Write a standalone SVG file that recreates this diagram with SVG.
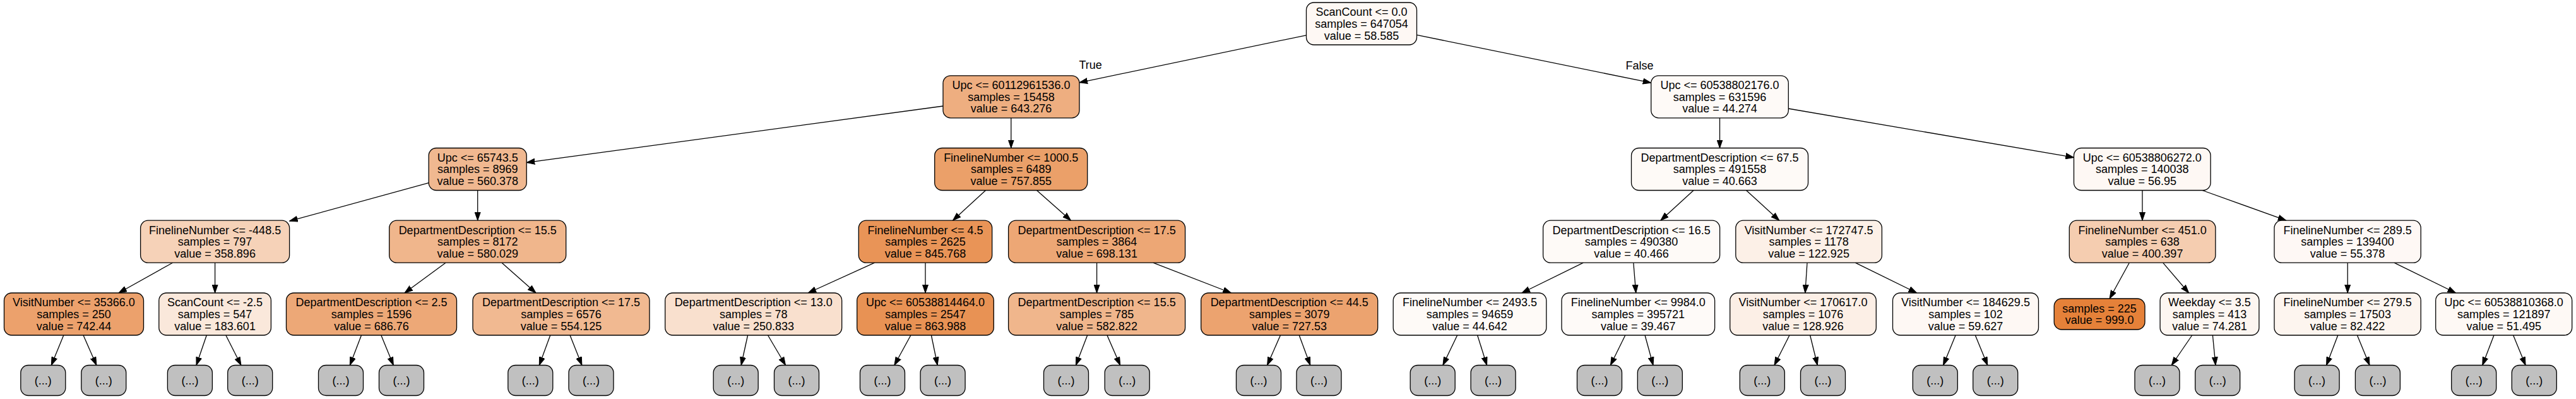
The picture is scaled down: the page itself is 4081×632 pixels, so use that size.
<svg xmlns="http://www.w3.org/2000/svg" width="4081" height="632" viewBox="0 0 4081 632">
<defs>
<marker id="ah" markerWidth="14" markerHeight="10" refX="13" refY="5" orient="auto" markerUnits="userSpaceOnUse"><path d="M0,0.5 L13,5 L0,9.5 z" fill="#000" stroke="#000" stroke-width="1"/></marker>
</defs>
<style>
.n rect{stroke:#000;stroke-width:1.3}
.d rect{fill:#c0c0c0;stroke:#000;stroke-width:1.3}
text{font-family:"Liberation Sans",Helvetica,Arial,sans-serif;font-size:18px;fill:#000;text-anchor:middle}
#edges line{stroke:#000;stroke-width:1.3;marker-end:url(#ah)}
</style>
<rect width="4081" height="632" fill="#fff"/>
<g id="edges">
<line x1="2069.5" y1="55.8" x2="1710" y2="130.8"/>
<line x1="2244.5" y1="55.4" x2="2615.7" y2="131.2"/>
<line x1="1494" y1="168" x2="834.2" y2="257.5"/>
<line x1="1601.8" y1="186.8" x2="1601.8" y2="234.5"/>
<line x1="2724.5" y1="186.8" x2="2724.5" y2="234.5"/>
<line x1="2833.3" y1="172" x2="3285.5" y2="249.4"/>
<line x1="679.2" y1="289.6" x2="458.6" y2="350.2"/>
<line x1="756.7" y1="301.5" x2="756.7" y2="349.2"/>
<line x1="1561.5" y1="301.5" x2="1509.5" y2="349.2"/>
<line x1="1642.5" y1="301.5" x2="1696.5" y2="349.2"/>
<line x1="2683" y1="301.5" x2="2630.8" y2="349.2"/>
<line x1="2766.5" y1="301.5" x2="2818.8" y2="349.2"/>
<line x1="3394" y1="301.5" x2="3394" y2="349.2"/>
<line x1="3489" y1="301.5" x2="3621.8" y2="349.2"/>
<line x1="273.5" y1="416.2" x2="188" y2="464"/>
<line x1="340.6" y1="416.2" x2="340.6" y2="464"/>
<line x1="706" y1="416.2" x2="641" y2="464"/>
<line x1="795" y1="416.2" x2="849" y2="464"/>
<line x1="1385.6" y1="416.2" x2="1280.2" y2="464"/>
<line x1="1466" y1="416.2" x2="1466" y2="464"/>
<line x1="1737.6" y1="416.2" x2="1737.6" y2="464"/>
<line x1="1826.8" y1="416.2" x2="1950.4" y2="464"/>
<line x1="2508.4" y1="416.2" x2="2410.9" y2="464"/>
<line x1="2587.8" y1="416.2" x2="2591.7" y2="464"/>
<line x1="2863" y1="416.2" x2="2859.8" y2="464"/>
<line x1="2939.2" y1="416.2" x2="3036.7" y2="464"/>
<line x1="3373.3" y1="416.2" x2="3342.1" y2="473"/>
<line x1="3426.6" y1="416.2" x2="3467.6" y2="464"/>
<line x1="3719.2" y1="416.2" x2="3719.2" y2="464"/>
<line x1="3792.9" y1="416.2" x2="3890.5" y2="464"/>
<line x1="100.8" y1="531" x2="81.3" y2="578.5"/>
<line x1="132" y1="531" x2="152.9" y2="578.5"/>
<line x1="327.3" y1="531" x2="311" y2="578.5"/>
<line x1="357.8" y1="531" x2="381.9" y2="578.5"/>
<line x1="572.5" y1="531" x2="554.3" y2="578.5"/>
<line x1="603.8" y1="531" x2="623.3" y2="578.5"/>
<line x1="871.8" y1="531" x2="854.3" y2="578.5"/>
<line x1="903" y1="531" x2="921.9" y2="578.5"/>
<line x1="1184.6" y1="531" x2="1174.2" y2="578.5"/>
<line x1="1216.5" y1="531" x2="1244.5" y2="578.5"/>
<line x1="1442.9" y1="531" x2="1416.9" y2="578.5"/>
<line x1="1475.4" y1="531" x2="1485.2" y2="578.5"/>
<line x1="1722.7" y1="531" x2="1704.4" y2="578.5"/>
<line x1="1753.9" y1="531" x2="1774.7" y2="578.5"/>
<line x1="2028.5" y1="531" x2="2007.6" y2="578.5"/>
<line x1="2058.2" y1="531" x2="2075.8" y2="578.5"/>
<line x1="2308.7" y1="531" x2="2285.9" y2="578.5"/>
<line x1="2340.6" y1="531" x2="2355.6" y2="578.5"/>
<line x1="2574.8" y1="531" x2="2551.4" y2="578.5"/>
<line x1="2606" y1="531" x2="2619" y2="578.5"/>
<line x1="2835" y1="531" x2="2811" y2="578.5"/>
<line x1="2867.6" y1="531" x2="2879.3" y2="578.5"/>
<line x1="3098.1" y1="531" x2="3078.6" y2="578.5"/>
<line x1="3129.3" y1="531" x2="3148.8" y2="578.5"/>
<line x1="3472.8" y1="531" x2="3440.3" y2="578.5"/>
<line x1="3505.4" y1="531" x2="3510" y2="578.5"/>
<line x1="3703.8" y1="531" x2="3685.6" y2="578.5"/>
<line x1="3734.4" y1="531" x2="3754" y2="578.5"/>
<line x1="3951" y1="531" x2="3932.8" y2="578.5"/>
<line x1="3981.6" y1="531" x2="4001.1" y2="578.5"/>
<text x="1727.7" y="109.3">True</text>
<text x="2597.5" y="110">False</text>
</g>
<g id="n0" class="n"><rect x="2069.5" y="4" width="175" height="67" rx="12" fill="#fef8f4"/><text x="2157" y="25.3">ScanCount &lt;= 0.0</text><text x="2157" y="43.9">samples = 647054</text><text x="2157" y="62.5">value = 58.585</text></g>
<g id="n1" class="n"><rect x="1494" y="119.8" width="216" height="67" rx="12" fill="#eeae80"/><text x="1602" y="141.1">Upc &lt;= 60112961536.0</text><text x="1602" y="159.7">samples = 15458</text><text x="1602" y="178.3">value = 643.276</text></g>
<g id="n2" class="n"><rect x="2615.7" y="119.8" width="217.6" height="67" rx="12" fill="#fefaf7"/><text x="2724.5" y="141.1">Upc &lt;= 60538802176.0</text><text x="2724.5" y="159.7">samples = 631596</text><text x="2724.5" y="178.3">value = 44.274</text></g>
<g id="n3" class="n"><rect x="679.2" y="234.5" width="155" height="67" rx="12" fill="#f0b890"/><text x="756.7" y="255.8">Upc &lt;= 65743.5</text><text x="756.7" y="274.4">samples = 8969</text><text x="756.7" y="293">value = 560.378</text></g>
<g id="n4" class="n"><rect x="1480.7" y="234.5" width="242" height="67" rx="12" fill="#eba069"/><text x="1601.7" y="255.8">FinelineNumber &lt;= 1000.5</text><text x="1601.7" y="274.4">samples = 6489</text><text x="1601.7" y="293">value = 757.855</text></g>
<g id="n5" class="n"><rect x="2584.5" y="234.5" width="280" height="67" rx="12" fill="#fefaf7"/><text x="2724.5" y="255.8">DepartmentDescription &lt;= 67.5</text><text x="2724.5" y="274.4">samples = 491558</text><text x="2724.5" y="293">value = 40.663</text></g>
<g id="n6" class="n"><rect x="3285.5" y="234.5" width="216.6" height="67" rx="12" fill="#fef8f4"/><text x="3393.8" y="255.8">Upc &lt;= 60538806272.0</text><text x="3393.8" y="274.4">samples = 140038</text><text x="3393.8" y="293">value = 56.95</text></g>
<g id="n7" class="n"><rect x="222.6" y="349.2" width="236" height="67" rx="12" fill="#f6d2b8"/><text x="340.6" y="370.5">FinelineNumber &lt;= -448.5</text><text x="340.6" y="389.1">samples = 797</text><text x="340.6" y="407.7">value = 358.896</text></g>
<g id="n8" class="n"><rect x="616.7" y="349.2" width="280" height="67" rx="12" fill="#f0b68c"/><text x="756.7" y="370.5">DepartmentDescription &lt;= 15.5</text><text x="756.7" y="389.1">samples = 8172</text><text x="756.7" y="407.7">value = 580.029</text></g>
<g id="n9" class="n"><rect x="1360.3" y="349.2" width="211.4" height="67" rx="12" fill="#e99457"/><text x="1466" y="370.5">FinelineNumber &lt;= 4.5</text><text x="1466" y="389.1">samples = 2625</text><text x="1466" y="407.7">value = 845.768</text></g>
<g id="n10" class="n"><rect x="1597.6" y="349.2" width="280" height="67" rx="12" fill="#eda775"/><text x="1737.6" y="370.5">DepartmentDescription &lt;= 17.5</text><text x="1737.6" y="389.1">samples = 3864</text><text x="1737.6" y="407.7">value = 698.131</text></g>
<g id="n11" class="n"><rect x="2444.6" y="349.2" width="280" height="67" rx="12" fill="#fefaf7"/><text x="2584.6" y="370.5">DepartmentDescription &lt;= 16.5</text><text x="2584.6" y="389.1">samples = 490380</text><text x="2584.6" y="407.7">value = 40.466</text></g>
<g id="n12" class="n"><rect x="2749.8" y="349.2" width="231.6" height="67" rx="12" fill="#fcf0e7"/><text x="2865.6" y="370.5">VisitNumber &lt;= 172747.5</text><text x="2865.6" y="389.1">samples = 1178</text><text x="2865.6" y="407.7">value = 122.925</text></g>
<g id="n13" class="n"><rect x="3278.3" y="349.2" width="231.6" height="67" rx="12" fill="#f5cdb0"/><text x="3394.1" y="370.5">FinelineNumber &lt;= 451.0</text><text x="3394.1" y="389.1">samples = 638</text><text x="3394.1" y="407.7">value = 400.397</text></g>
<g id="n14" class="n"><rect x="3603" y="349.2" width="232.2" height="67" rx="12" fill="#fef8f5"/><text x="3719.1" y="370.5">FinelineNumber &lt;= 289.5</text><text x="3719.1" y="389.1">samples = 139400</text><text x="3719.1" y="407.7">value = 55.378</text></g>
<g id="n15" class="n"><rect x="6.5" y="464" width="221" height="67" rx="12" fill="#eca16c"/><text x="117" y="485.3">VisitNumber &lt;= 35366.0</text><text x="117" y="503.9">samples = 250</text><text x="117" y="522.5">value = 742.44</text></g>
<g id="n16" class="n"><rect x="251.8" y="464" width="177.6" height="67" rx="12" fill="#fae8db"/><text x="340.6" y="485.3">ScanCount &lt;= -2.5</text><text x="340.6" y="503.9">samples = 547</text><text x="340.6" y="522.5">value = 183.601</text></g>
<g id="n17" class="n"><rect x="453.5" y="464" width="270" height="67" rx="12" fill="#eda877"/><text x="588.5" y="485.3">DepartmentDescription &lt;= 2.5</text><text x="588.5" y="503.9">samples = 1596</text><text x="588.5" y="522.5">value = 686.76</text></g>
<g id="n18" class="n"><rect x="749" y="464" width="280" height="67" rx="12" fill="#f1b991"/><text x="889" y="485.3">DepartmentDescription &lt;= 17.5</text><text x="889" y="503.9">samples = 6576</text><text x="889" y="522.5">value = 554.125</text></g>
<g id="n19" class="n"><rect x="1053.7" y="464" width="280" height="67" rx="12" fill="#f9e0ce"/><text x="1193.7" y="485.3">DepartmentDescription &lt;= 13.0</text><text x="1193.7" y="503.9">samples = 78</text><text x="1193.7" y="522.5">value = 250.833</text></g>
<g id="n20" class="n"><rect x="1357.7" y="464" width="216.6" height="67" rx="12" fill="#e89254"/><text x="1466" y="485.3">Upc &lt;= 60538814464.0</text><text x="1466" y="503.9">samples = 2547</text><text x="1466" y="522.5">value = 863.988</text></g>
<g id="n21" class="n"><rect x="1597.6" y="464" width="280" height="67" rx="12" fill="#f0b68c"/><text x="1737.6" y="485.3">DepartmentDescription &lt;= 15.5</text><text x="1737.6" y="503.9">samples = 785</text><text x="1737.6" y="522.5">value = 582.822</text></g>
<g id="n22" class="n"><rect x="1902.7" y="464" width="280" height="67" rx="12" fill="#eca36f"/><text x="2042.7" y="485.3">DepartmentDescription &lt;= 44.5</text><text x="2042.7" y="503.9">samples = 3079</text><text x="2042.7" y="522.5">value = 727.53</text></g>
<g id="n23" class="n"><rect x="2207.2" y="464" width="242.6" height="67" rx="12" fill="#fefaf7"/><text x="2328.5" y="485.3">FinelineNumber &lt;= 2493.5</text><text x="2328.5" y="503.9">samples = 94659</text><text x="2328.5" y="522.5">value = 44.642</text></g>
<g id="n24" class="n"><rect x="2474" y="464" width="242.6" height="67" rx="12" fill="#fefaf8"/><text x="2595.3" y="485.3">FinelineNumber &lt;= 9984.0</text><text x="2595.3" y="503.9">samples = 395721</text><text x="2595.3" y="522.5">value = 39.467</text></g>
<g id="n25" class="n"><rect x="2740.7" y="464" width="231.6" height="67" rx="12" fill="#fcefe6"/><text x="2856.5" y="485.3">VisitNumber &lt;= 170617.0</text><text x="2856.5" y="503.9">samples = 1076</text><text x="2856.5" y="522.5">value = 128.926</text></g>
<g id="n26" class="n"><rect x="2998.5" y="464" width="231" height="67" rx="12" fill="#fef8f4"/><text x="3114" y="485.3">VisitNumber &lt;= 184629.5</text><text x="3114" y="503.9">samples = 102</text><text x="3114" y="522.5">value = 59.627</text></g>
<g id="n27" class="n"><rect x="3254.2" y="473" width="143.8" height="49" rx="12" fill="#e58139"/><text x="3326.1" y="494.8">samples = 225</text><text x="3326.1" y="513.4">value = 999.0</text></g>
<g id="n28" class="n"><rect x="3422.1" y="464" width="156.8" height="67" rx="12" fill="#fdf6f1"/><text x="3500.5" y="485.3">Weekday &lt;= 3.5</text><text x="3500.5" y="503.9">samples = 413</text><text x="3500.5" y="522.5">value = 74.281</text></g>
<g id="n29" class="n"><rect x="3603" y="464" width="232.2" height="67" rx="12" fill="#fdf5ef"/><text x="3719.1" y="485.3">FinelineNumber &lt;= 279.5</text><text x="3719.1" y="503.9">samples = 17503</text><text x="3719.1" y="522.5">value = 82.422</text></g>
<g id="n30" class="n"><rect x="3858.7" y="464" width="216" height="67" rx="12" fill="#fef9f5"/><text x="3966.7" y="485.3">Upc &lt;= 60538810368.0</text><text x="3966.7" y="503.9">samples = 121897</text><text x="3966.7" y="522.5">value = 51.495</text></g>
<g id="d1" class="d"><rect x="32.8" y="578.5" width="71" height="48" rx="12"/><text x="68.3" y="608.9">(...)</text></g>
<g id="d2" class="d"><rect x="128.8" y="578.5" width="71" height="48" rx="12"/><text x="164.3" y="608.9">(...)</text></g>
<g id="d3" class="d"><rect x="265.4" y="578.5" width="71" height="48" rx="12"/><text x="300.9" y="608.9">(...)</text></g>
<g id="d4" class="d"><rect x="360.7" y="578.5" width="71" height="48" rx="12"/><text x="396.2" y="608.9">(...)</text></g>
<g id="d5" class="d"><rect x="504.5" y="578.5" width="71" height="48" rx="12"/><text x="540" y="608.9">(...)</text></g>
<g id="d6" class="d"><rect x="600.5" y="578.5" width="71" height="48" rx="12"/><text x="636" y="608.9">(...)</text></g>
<g id="d7" class="d"><rect x="804.8" y="578.5" width="71" height="48" rx="12"/><text x="840.3" y="608.9">(...)</text></g>
<g id="d8" class="d"><rect x="901" y="578.5" width="71" height="48" rx="12"/><text x="936.5" y="608.9">(...)</text></g>
<g id="d9" class="d"><rect x="1130.2" y="578.5" width="71" height="48" rx="12"/><text x="1165.7" y="608.9">(...)</text></g>
<g id="d10" class="d"><rect x="1226.5" y="578.5" width="71" height="48" rx="12"/><text x="1262" y="608.9">(...)</text></g>
<g id="d11" class="d"><rect x="1362.5" y="578.5" width="71" height="48" rx="12"/><text x="1398" y="608.9">(...)</text></g>
<g id="d12" class="d"><rect x="1458.1" y="578.5" width="71" height="48" rx="12"/><text x="1493.6" y="608.9">(...)</text></g>
<g id="d13" class="d"><rect x="1653.5" y="578.5" width="71" height="48" rx="12"/><text x="1689" y="608.9">(...)</text></g>
<g id="d14" class="d"><rect x="1750.2" y="578.5" width="71" height="48" rx="12"/><text x="1785.7" y="608.9">(...)</text></g>
<g id="d15" class="d"><rect x="1958.5" y="578.5" width="71" height="48" rx="12"/><text x="1994" y="608.9">(...)</text></g>
<g id="d16" class="d"><rect x="2054" y="578.5" width="71" height="48" rx="12"/><text x="2089.5" y="608.9">(...)</text></g>
<g id="d17" class="d"><rect x="2234.2" y="578.5" width="71" height="48" rx="12"/><text x="2269.7" y="608.9">(...)</text></g>
<g id="d18" class="d"><rect x="2330.1" y="578.5" width="71" height="48" rx="12"/><text x="2365.6" y="608.9">(...)</text></g>
<g id="d19" class="d"><rect x="2498.5" y="578.5" width="71" height="48" rx="12"/><text x="2534" y="608.9">(...)</text></g>
<g id="d20" class="d"><rect x="2594.3" y="578.5" width="71" height="48" rx="12"/><text x="2629.8" y="608.9">(...)</text></g>
<g id="d21" class="d"><rect x="2756.3" y="578.5" width="71" height="48" rx="12"/><text x="2791.8" y="608.9">(...)</text></g>
<g id="d22" class="d"><rect x="2852.5" y="578.5" width="71" height="48" rx="12"/><text x="2888" y="608.9">(...)</text></g>
<g id="d23" class="d"><rect x="3030.3" y="578.5" width="71" height="48" rx="12"/><text x="3065.8" y="608.9">(...)</text></g>
<g id="d24" class="d"><rect x="3125.7" y="578.5" width="71" height="48" rx="12"/><text x="3161.2" y="608.9">(...)</text></g>
<g id="d25" class="d"><rect x="3382" y="578.5" width="71" height="48" rx="12"/><text x="3417.5" y="608.9">(...)</text></g>
<g id="d26" class="d"><rect x="3477.7" y="578.5" width="71" height="48" rx="12"/><text x="3513.2" y="608.9">(...)</text></g>
<g id="d27" class="d"><rect x="3635.1" y="578.5" width="71" height="48" rx="12"/><text x="3670.6" y="608.9">(...)</text></g>
<g id="d28" class="d"><rect x="3731.4" y="578.5" width="71" height="48" rx="12"/><text x="3766.9" y="608.9">(...)</text></g>
<g id="d29" class="d"><rect x="3883.7" y="578.5" width="71" height="48" rx="12"/><text x="3919.2" y="608.9">(...)</text></g>
<g id="d30" class="d"><rect x="3979.3" y="578.5" width="71" height="48" rx="12"/><text x="4014.8" y="608.9">(...)</text></g>
</svg>
